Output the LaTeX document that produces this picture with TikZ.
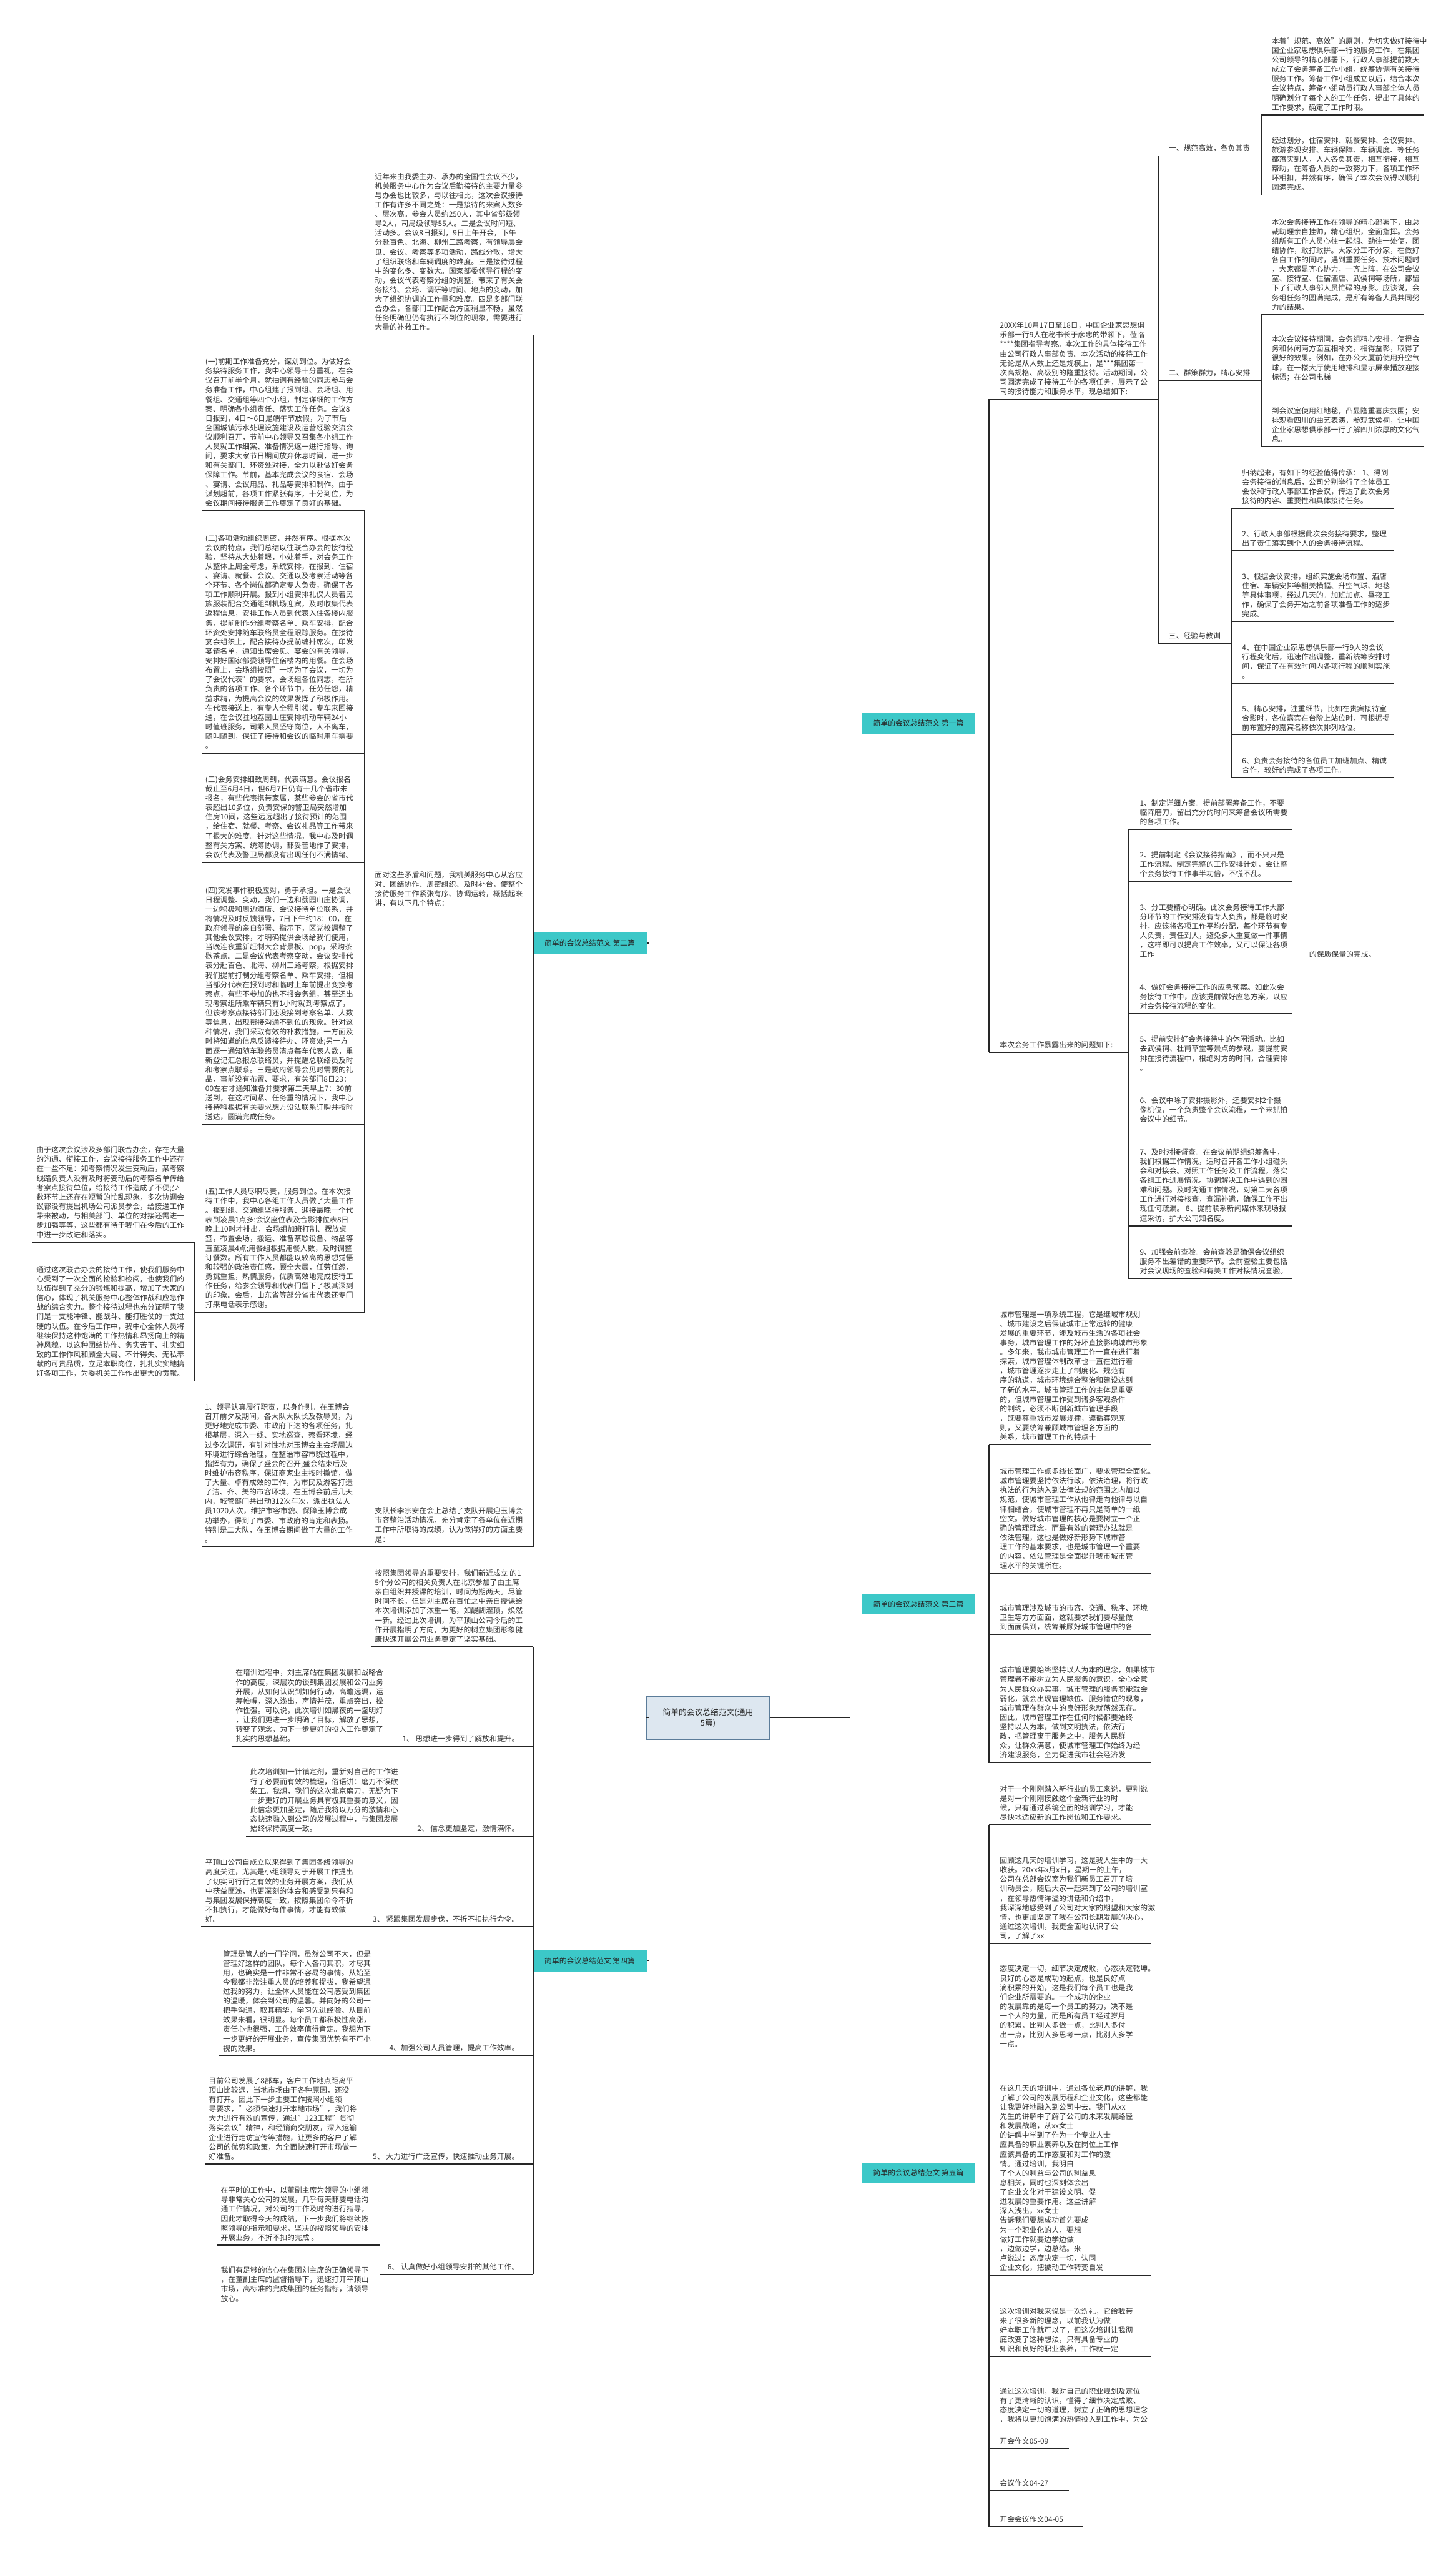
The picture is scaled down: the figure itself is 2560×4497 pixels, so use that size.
\documentclass[tikz,border=0pt]{standalone}
\usepackage{fontspec}
\setmainfont{Noto Sans CJK SC}
\definecolor{txtc}{HTML}{333333}
\definecolor{tealf}{HTML}{3CC8C8}
\definecolor{rootf}{HTML}{DDE7F0}
\definecolor{rootd}{HTML}{5B7C99}
\begin{document}
\begin{tikzpicture}[x=1pt,y=-1pt]
\tikzset{
 tx/.style={anchor=south west,inner sep=0pt,align=left,font=\fontsize{13}{16.6}\selectfont,text=txtc},
 tr/.style={anchor=south east,inner sep=0pt,align=right,font=\fontsize{13}{16.6}\selectfont,text=txtc},
 ul/.style={line width=1.5pt,draw=black!85},
 br/.style={fill=tealf,inner sep=0pt,minimum width=200pt,minimum height=37pt,font=\fontsize{13}{16}\selectfont,text=black!85},
 rt/.style={fill=rootf,draw=rootd,line width=1.5pt,inner sep=6pt,minimum width=215pt,minimum height=76pt,align=center,font=\fontsize{14}{19}\selectfont,text=black!85}
}
\useasboundingbox (0,0) rectangle (2560,4497);
\fill[white] (0,0) rectangle (2560,4497);

% ---------------- root and branches
\node[rt] (root) at (1245,3020) {简单的会议总结范文(通用\\5篇)};
\node[br] (b1) at (1615,1271) {简单的会议总结范文 第一篇};
\node[br] (b3) at (1615,2820) {简单的会议总结范文 第三篇};
\node[br] (b5) at (1615,3820) {简单的会议总结范文 第五篇};
\node[br] (b2) at (1037,1658) {简单的会议总结范文 第二篇};
\node[br] (b4) at (1037,3447) {简单的会议总结范文 第四篇};
\coordinate (rs) at (1495,3020);
\coordinate (ls) at (1141,3020);
\draw[ul] (root.east) -- (rs);
\draw[ul] (1495,1271) -- (1495,3820);
\draw[ul] (1495,1271) -- (b1.west);
\draw[ul] (1495,2820) -- (b3.west);
\draw[ul] (1495,3820) -- (b5.west);
\draw[ul] (root.west) -- (ls);
\draw[ul] (1141,1658) -- (1141,3447);
\draw[ul] (1141,1658) -- (b2.east);
\draw[ul] (1141,3447) -- (b4.east);

% ---------------- 第一篇
\draw[ul] (b1.east) -- (1739,1271);
\draw[ul] (1739,702) -- (1739,1850);
\node[tx] (m1) at (1758,695) {20XX年10月17日至18日，中国企业家思想俱\\乐部一行9人在秘书长于彦忠的带领下，莅临\\****集团指导考察。本次工作的具体接待工作\\由公司行政人事部负责。本次活动的接待工作\\无论是从人数上还是规模上，是***集团第一\\次高规格、高级别的隆重接待。活动期间，公\\司圆满完成了接待工作的各项任务，展示了公\\司的接待能力和服务水平，现总结如下:};
\draw[ul] (1739,702) -- (2037,702);
\draw[ul] (2037,274) -- (2037,1131);
% 一
\node[tx] (s1) at (2055,267) {一、规范高效，各负其责};
\draw[ul] (2037,274) -- (2218,274);
\draw[ul] (2218,202) -- (2218,343);
\node[tx] (a1) at (2236,195) {本着"规范、高效"的原则，为切实做好接待中\\国企业家思想俱乐部一行的服务工作，在集团\\公司领导的精心部署下，行政人事部提前数天\\成立了会务筹备工作小组，统筹协调有关接待\\服务工作。筹备工作小组成立以后，结合本次\\会议特点，筹备小组动员行政人事部全体人员\\明确划分了每个人的工作任务，提出了具体的\\工作要求，确定了工作时限。};
\draw[ul] (2218,202) -- (2504,202);
\node[tx] (a2) at (2236,336) {经过划分，住宿安排、就餐安排、会议安排、\\旅游参观安排、车辆保障、车辆调度、等任务\\都落实到人，人人各负其责，相互衔接，相互\\帮助，在筹备人员的一致努力下，各项工作环\\环相扣，井然有序，确保了本次会议得以顺利\\圆满完成。};
\draw[ul] (2218,343) -- (2504,343);
% 二
\node[tx] (s2) at (2055,662) {二、群策群力，精心安排};
\draw[ul] (2037,669) -- (2218,669);
\draw[ul] (2218,553) -- (2218,785);
\node[tx] (a3) at (2236,546) {本次会务接待工作在领导的精心部署下，由总\\裁助理亲自挂帅，精心组织，全面指挥。会务\\组所有工作人员心往一起想、劲往一处使，团\\结协作，敢打敢拼。大家分工不分家，在做好\\各自工作的同时，遇到重要任务、技术问题时\\，大家都是齐心协力，一齐上阵，在公司会议\\室、接待室、住宿酒店、武侯祠等场所，都留\\下了行政人事部人员忙碌的身影。应该说，会\\务组任务的圆满完成，是所有筹备人员共同努\\力的结果。};
\draw[ul] (2218,553) -- (2504,553);
\node[tx] (a4) at (2236,670) {本次会议接待期间，会务组精心安排，使得会\\务和休闲两方面互相补充，相得益彰，取得了\\很好的效果。例如，在办公大厦前使用升空气\\球，在一楼大厅使用地排和显示屏来播放迎接\\标语；在公司电梯};
\draw[ul] (2218,677) -- (2504,677);
\node[tx] (a5) at (2236,778) {到会议室使用红地毯，凸显隆重喜庆氛围；安\\排观看四川的曲艺表演，参观武侯祠，让中国\\企业家思想俱乐部一行了解四川浓厚的文化气\\息。};
\draw[ul] (2218,785) -- (2504,785);
% 三
\node[tx] (s3) at (2055,1124) {三、经验与教训};
\draw[ul] (2037,1131) -- (2165,1131);
\draw[ul] (2165,894) -- (2165,1367);
\node[tx] (e1) at (2184,887) {归纳起来，有如下的经验值得传承： 1、得到\\会务接待的消息后，公司分别举行了全体员工\\会议和行政人事部工作会议，传达了此次会务\\接待的内容、重要性和具体接待任务。};
\draw[ul] (2165,894) -- (2452,894);
\node[tx] (e2) at (2184,961) {2、行政人事部根据此次会务接待要求，整理\\出了责任落实到个人的会务接待流程。};
\draw[ul] (2165,968) -- (2452,968);
\node[tx] (e3) at (2184,1086) {3、根据会议安排，组织实施会场布置、酒店\\住宿、车辆安排等相关横幅、升空气球、地毯\\等具体事项，经过几天的。加班加点、昼夜工\\作，确保了会务开始之前各项准备工作的逐步\\完成。};
\draw[ul] (2165,1093) -- (2452,1093);
\node[tx] (e4) at (2184,1194) {4、在中国企业家思想俱乐部一行9人的会议\\行程变化后，迅速作出调整，重新统筹安排时\\间，保证了在有效时间内各项行程的顺利实施\\。};
\draw[ul] (2165,1201) -- (2452,1201);
\node[tx] (e5) at (2184,1285) {5、精心安排，注重细节，比如在贵宾接待室\\合影时，各位嘉宾在台阶上站位时，可根据提\\前布置好的嘉宾名称依次排列站位。};
\draw[ul] (2165,1292) -- (2452,1292);
\node[tx] (e6) at (2184,1360) {6、负责会务接待的各位员工加班加点、精诚\\合作，较好的完成了各项工作。};
\draw[ul] (2165,1367) -- (2452,1367);
% 问题
\node[tx] (q0) at (1758,1843) {本次会务工作暴露出来的问题如下:};
\draw[ul] (1739,1850) -- (1985,1850);
\draw[ul] (1985,1458) -- (1985,2248);
\node[tx] (q1) at (2004,1451) {1、制定详细方案。提前部署筹备工作，不要\\临阵磨刀，留出充分的时间来筹备会议所需要\\的各项工作。};
\draw[ul] (1985,1458) -- (2271,1458);
\node[tx] (q2) at (2004,1543) {2、提前制定《会议接待指南》，而不只只是\\工作流程。制定完整的工作安排计划，会让整\\个会务接待工作事半功倍，不慌不乱。};
\draw[ul] (1985,1550) -- (2271,1550);
\node[tx] (q3) at (2004,1684) {3、分工要精心明确。此次会务接待工作大部\\分环节的工作安排没有专人负责，都是临时安\\排，应该将各项工作平均分配，每个环节有专\\人负责，责任到人，避免多人重复做一件事情\\，这样即可以提高工作效率，又可以保证各项\\工作};
\draw[ul] (1985,1691) -- (2271,1691);
\node[tx] (q3a) at (2302,1684) {的保质保量的完成。};
\draw[ul] (2271,1691) -- (2426,1691);
\node[tx] (q4) at (2004,1775) {4、做好会务接待工作的应急预案。如此次会\\务接待工作中，应该提前做好应急方案，以应\\对会务接待流程的变化。};
\draw[ul] (1985,1782) -- (2271,1782);
\node[tx] (q5) at (2004,1883) {5、提前安排好会务接待中的休闲活动。比如\\去武侯祠、杜甫草堂等景点的参观，要提前安\\排在接待流程中，根绝对方的时间，合理安排\\。};
\draw[ul] (1985,1890) -- (2271,1890);
\node[tx] (q6) at (2004,1974) {6、会议中除了安排摄影外，还要安排2个摄\\像机位，一个负责整个会议流程，一个来抓拍\\会议中的细节。};
\draw[ul] (1985,1981) -- (2271,1981);
\node[tx] (q7) at (2004,2148) {7、及时对接督查。在会议前期组织筹备中，\\我们根据工作情况，适时召开各工作小组碰头\\会和对接会。对照工作任务及工作流程，落实\\各组工作进展情况。协调解决工作中遇到的困\\难和问题。及时沟通工作情况，对第二天各项\\工作进行对接核查，查漏补遗，确保工作不出\\现任何疏漏。 8、提前联系新闻媒体来现场报\\道采访，扩大公司知名度。};
\draw[ul] (1985,2155) -- (2271,2155);
\node[tx] (q9) at (2004,2241) {9、加强会前查验。会前查验是确保会议组织\\服务不出差错的重要环节。会前查验主要包括\\对会议现场的查验和有关工作对接情况查验。};
\draw[ul] (1985,2248) -- (2271,2248);

% ---------------- 第三篇
\draw[ul] (b3.east) -- (1739,2820);
\draw[ul] (1739,2540) -- (1739,3099);
\node[tx] (t1) at (1758,2533) {城市管理是一项系统工程，它是继城市规划\\、城市建设之后保证城市正常运转的健康\\发展的重要环节，涉及城市生活的各项社会\\事务，城市管理工作的好坏直接影响城市形象\\。多年来，我市城市管理工作一直在进行着\\探索，城市管理体制改革也一直在进行着\\，城市管理逐步走上了制度化、规范有\\序的轨道，城市环境综合整治和建设达到\\了新的水平。城市管理工作的主体是重要\\的，但城市管理工作受到诸多客观条件\\的制约，必须不断创新城市管理手段\\，既要尊重城市发展规律，遵循客观原\\则，又要统筹兼顾城市管理各方面的\\关系，城市管理工作的特点十};
\draw[ul] (1739,2540) -- (2024,2540);
\node[tx] (t2) at (1758,2759) {城市管理工作点多线长面广，要求管理全面化。\\城市管理要坚持依法行政，依法治理，将行政\\执法的行为纳入到法律法规的范围之内加以\\规范，使城市管理工作从他律走向他律与以自\\律相结合，使城市管理不再只是简单的一纸\\空文。做好城市管理的核心是要树立一个正\\确的管理理念，而最有效的管理办法就是\\依法管理，这也是做好新形势下城市管\\理工作的基本要求，也是城市管理一个重要\\的内容，依法管理是全面提升我市城市管\\理水平的关键所在。};
\draw[ul] (1739,2766) -- (2024,2766);
\node[tx] (t3) at (1758,2867) {城市管理涉及城市的市容、交通、秩序、环境\\卫生等方方面面，这就要求我们要尽量做\\到面面俱到，统筹兼顾好城市管理中的各};
\draw[ul] (1739,2874) -- (2024,2874);
\node[tx] (t4) at (1758,3092) {城市管理要始终坚持以人为本的理念，如果城市\\管理者不能树立为人民服务的意识，全心全意\\为人民群众办实事，城市管理的服务职能就会\\弱化，就会出现管理缺位、服务错位的现象，\\城市管理在群众中的良好形象就荡然无存。\\因此，城市管理工作在任何时候都要始终\\坚持以人为本，做到文明执法，依法行\\政，把管理寓于服务之中，服务人民群\\众，让群众满意，使城市管理工作始终为经\\济建设服务，全力促进我市社会经济发};
\draw[ul] (1739,3099) -- (2024,3099);

% ---------------- 第五篇
\draw[ul] (b5.east) -- (1739,3820);
\draw[ul] (1739,3208) -- (1739,4442);
\node[tx] (f1) at (1758,3201) {对于一个刚刚踏入新行业的员工来说，更别说\\是对一个刚刚接触这个全新行业的时\\候，只有通过系统全面的培训学习，才能\\尽快地适应新的工作岗位和工作要求。};
\draw[ul] (1739,3208) -- (2024,3208);
\node[tx] (f2) at (1758,3410) {回顾这几天的培训学习，这是我人生中的一大\\收获。20xx年x月x日，星期一的上午，\\公司在总部会议室为我们新员工召开了培\\训动员会，随后大家一起来到了公司的培训室\\，在领导热情洋溢的讲话和介绍中，\\我深深地感受到了公司对大家的期望和大家的激\\情，也更加坚定了我在公司长期发展的决心，\\通过这次培训，我更全面地认识了公\\司，了解了xx};
\draw[ul] (1739,3417) -- (2024,3417);
\node[tx] (f3) at (1758,3600) {态度决定一切，细节决定成败，心态决定乾坤。\\良好的心态是成功的起点，也是良好点\\滴积累的开始，这是我们每个员工也是我\\们企业所需要的。一个成功的企业\\的发展靠的是每一个员工的努力，决不是\\一个人的力量，而是所有员工经过岁月\\的积累，比别人多做一点，比别人多付\\出一点，比别人多思考一点，比别人多学\\一点。};
\draw[ul] (1739,3607) -- (2024,3607);
\node[tx] (f4) at (1758,3993) {在这几天的培训中，通过各位老师的讲解，我\\了解了公司的发展历程和企业文化，这些都能\\让我更好地融入到公司中去。我们从xx\\先生的讲解中了解了公司的未来发展路径\\和发展战略，从xx女士\\的讲解中学到了作为一个专业人士\\应具备的职业素养以及在岗位上工作\\应该具备的工作态度和对工作的激\\情。通过培训，我明白\\了个人的利益与公司的利益息\\息相关，同时也深刻体会出\\了企业文化对于建设文明、促\\进发展的重要作用。这些讲解\\深入浅出，xx女士\\告诉我们要想成功首先要成\\为一个职业化的人，要想\\做好工作就要边学边做\\，边做边学，边总结。米\\卢说过：态度决定一切，认同\\企业文化，把被动工作转变自发};
\draw[ul] (1739,4000) -- (2024,4000);
\node[tx] (f5) at (1758,4136) {这次培训对我来说是一次洗礼，它给我带\\来了很多新的理念，以前我认为做\\好本职工作就可以了，但这次培训让我彻\\底改变了这种想法，只有具备专业的\\知识和良好的职业素养，工作就一定};
\draw[ul] (1739,4143) -- (2024,4143);
\node[tx] (f6) at (1758,4260) {通过这次培训，我对自己的职业规划及定位\\有了更清晰的认识，懂得了细节决定成败、\\态度决定一切的道理，树立了正确的思想理念\\，我将以更加饱满的热情投入到工作中，为公};
\draw[ul] (1739,4267) -- (2024,4267);
\node[tx] (f7) at (1758,4298) {开会作文05-09};
\draw[ul] (1739,4305) -- (1880,4305);
\node[tx] (f8) at (1758,4371) {会议作文04-27};
\draw[ul] (1739,4378) -- (1880,4378);
\node[tx] (f9) at (1758,4435) {开会会议作文04-05};
\draw[ul] (1739,4442) -- (1905,4442);

% ---------------- 第二篇
\draw[ul] (938,1658) -- (b2.west);
\draw[ul] (938,589) -- (938,2719);
\node[tx] (n0) at (659,582) {近年来由我委主办、承办的全国性会议不少，\\机关服务中心作为会议后勤接待的主要力量参\\与办会也比较多，与以往相比，这次会议接待\\工作有许多不同之处：一是接待的来宾人数多\\、层次高。参会人员约250人，其中省部级领\\导2人，司局级领导55人。二是会议时间短、\\活动多。会议8日报到，9日上午开会，下午\\分赴百色、北海、柳州三路考察，有领导层会\\见、会议、考察等多项活动，路线分散，增大\\了组织联络和车辆调度的难度。三是接待过程\\中的变化多、变数大。国家部委领导行程的变\\动，会议代表考察分组的调整，带来了有关会\\务接待、会场、调研等时间、地点的变动，加\\大了组织协调的工作量和难度。四是多部门联\\合办会，各部门工作配合方面稍显不畅，虽然\\任务明确但仍有执行不到位的现象，需要进行\\大量的补救工作。};
\draw[ul] (652,589) -- (938,589);
\node[tx] (n1) at (659,1594) {面对这些矛盾和问题，我机关服务中心从容应\\对、团结协作、周密组织、及时补台，使整个\\接待服务工作紧张有序、协调运转，概括起来\\讲，有以下几个特点：};
\draw[ul] (641,1601) -- (938,1601);
\draw[ul] (641,898) -- (641,2307);
\node[tx] (p1) at (361,891) {(一)前期工作准备充分，谋划到位。为做好会\\务接待服务工作，我中心领导十分重视，在会\\议召开前半个月，就抽调有经验的同志参与会\\务准备工作，中心组建了报到组、会场组、用\\餐组、交通组等四个小组，制定详细的工作方\\案、明确各小组责任、落实工作任务。会议8\\日报到，4日～6日是端午节放假，为了节后\\全国城镇污水处理设施建设及运营经验交流会\\议顺利召开，节前中心领导又召集各小组工作\\人员就工作细案、准备情况逐一进行指导、询\\问，要求大家节日期间放弃休息时间，进一步\\和有关部门、环资处对接，全力以赴做好会务\\保障工作。节前，基本完成会议的食宿、会场\\、宴请、会议用品、礼品等安排和制作。由于\\谋划超前，各项工作紧张有序，十分到位，为\\会议期间接待服务工作奠定了良好的基础。};
\draw[ul] (355,898) -- (641,898);
\node[tx] (p2) at (361,1317) {(二)各项活动组织周密，井然有序。根据本次\\会议的特点，我们总结以往联合办会的接待经\\验，坚持从大处着眼，小处着手，对会务工作\\从整体上周全考虑，系统安排，在报到、住宿\\、宴请、就餐、会议、交通以及考察活动等各\\个环节、各个岗位都确定专人负责，确保了各\\项工作顺利开展。报到小组安排礼仪人员着民\\族服装配合交通组到机场迎宾，及时收集代表\\返程信息，安排工作人员到代表入住各楼内服\\务，提前制作分组考察名单、乘车安排，配合\\环资处安排随车联络员全程跟踪服务。在接待\\宴会组织上，配合接待办提前编排席次，印发\\宴请名单，通知出席会见、宴会的有关领导，\\安排好国家部委领导住宿楼内的用餐。在会场\\布置上，会场组按照"一切为了会议，一切为\\了会议代表"的要求，会场组各位同志，在所\\负责的各项工作、各个环节中，任劳任怨，精\\益求精，为提高会议的效果发挥了积极作用。\\在代表接送上，有专人全程引领，专车来回接\\送，在会议驻地荔园山庄安排机动车辆24小\\时值班服务，司乘人员坚守岗位，人不离车，\\随叫随到，保证了接待和会议的临时用车需要\\。};
\draw[ul] (355,1324) -- (641,1324);
\node[tx] (p3) at (361,1509) {(三)会务安排细致周到，代表满意。会议报名\\截止至6月4日，但6月7日仍有十几个省市未\\报名，有些代表携带家属，某些参会的省市代\\表超出10多位，负责安保的警卫局突然增加\\住房10间，这些远远超出了接待预计的范围\\，给住宿、就餐、考察、会议礼品等工作带来\\了很大的难度。针对这些情况，我中心及时调\\整有关方案、统筹协调，都妥善地作了安排，\\会议代表及警卫局都没有出现任何不满情绪。};
\draw[ul] (355,1516) -- (641,1516);
\node[tx] (p4) at (361,1970) {(四)突发事件积极应对，勇于承担。一是会议\\日程调整、变动，我们一边和荔园山庄协调，\\一边积极和周边酒店、会议接待单位联系，并\\将情况及时反馈领导，7日下午约18：00，在\\政府领导的亲自部署、指示下，区党校调整了\\其他会议安排，才明确提供会场给我们使用，\\当晚连夜重新赶制大会背景板、pop，采购茶\\歇茶点。二是会议代表考察变动，会议安排代\\表分赴百色、北海、柳州三路考察，根据安排\\我们提前打制分组考察名单、乘车安排，但相\\当部分代表在报到时和临时上车前提出变换考\\察点，有些不参加的也不报会务组，甚至还出\\现考察组所乘车辆只有1小时就到考察点了，\\但该考察点接待部门还没接到考察名单、人数\\等信息，出现衔接沟通不到位的现象。针对这\\种情况，我们采取有效的补救措施，一方面及\\时将知道的信息反馈接待办、环资处;另一方\\面逐一通知随车联络员清点每车代表人数，重\\新登记汇总报总联络员，并提醒总联络员及时\\和考察点联系。三是政府领导会见时需要的礼\\品，事前没有布置、要求，有关部门8日23：\\00左右才通知准备并要求第二天早上7：30前\\送到，在这时间紧、任务重的情况下，我中心\\接待科根据有关要求想方设法联系订购并按时\\送达，圆满完成任务。};
\draw[ul] (355,1977) -- (641,1977);
\node[tx] (p5) at (361,2300) {(五)工作人员尽职尽责，服务到位。在本次接\\待工作中，我中心各组工作人员做了大量工作\\。报到组、交通组坚持服务、迎接最晚一个代\\表到凌晨1点多;会议座位表及合影排位表8日\\晚上10时才排出，会场组加班打制、摆放桌\\签，布置会场，搬运、准备茶歇设备、物品等\\直至凌晨4点;用餐组根据用餐人数，及时调整\\订餐数。所有工作人员都能以较高的思想觉悟\\和较强的政治责任感，顾全大局，任劳任怨，\\勇挑重担，热情服务，优质高效地完成接待工\\作任务，给参会领导和代表们留下了极其深刻\\的印象。会后，山东省等部分省市代表还专门\\打来电话表示感谢。};
\draw[ul] (355,2307) -- (641,2307);
\draw[ul] (342,2184) -- (342,2428);
\draw[ul] (342,2307) -- (355,2307);
\node[tx] (r1) at (64,2177) {由于这次会议涉及多部门联合办会，存在大量\\的沟通、衔接工作，会议接待服务工作中还存\\在一些不足：如考察情况发生变动后，某考察\\线路负责人没有及时将变动后的考察名单传给\\考察点接待单位，给接待工作造成了不便;少\\数环节上还存在短暂的忙乱现象，多次协调会\\议都没有提出机场公司派员参会，给接送工作\\带来被动，与相关部门、单位的对接还需进一\\步加强等等，这些都有待于我们在今后的工作\\中进一步改进和落实。};
\draw[ul] (56,2184) -- (342,2184);
\node[tx] (r2) at (64,2421) {通过这次联合办会的接待工作，使我们服务中\\心受到了一次全面的检验和检阅，也使我们的\\队伍得到了充分的锻炼和提高，增加了大家的\\信心，体现了机关服务中心整体作战和应急作\\战的综合实力。整个接待过程也充分证明了我\\们是一支能冲锋、能战斗、能打胜仗的一支过\\硬的队伍。在今后工作中，我中心全体人员将\\继续保持这种饱满的工作热情和昂扬向上的精\\神风貌，以这种团结协作、务实苦干、扎实细\\致的工作作风和顾全大局、不计得失、无私奉\\献的可贵品质，立足本职岗位，扎扎实实地搞\\好各项工作，为委机关工作作出更大的贡献。};
\draw[ul] (56,2428) -- (342,2428);
\node[tx] (n2) at (659,2712) {支队长李宗安在会上总结了支队开展迎玉博会\\市容整治活动情况，充分肯定了各单位在近期\\工作中所取得的成绩，认为做得好的方面主要\\是：};
\draw[ul] (640,2719) -- (938,2719);
\node[tx] (n3) at (360,2712) {1、领导认真履行职责，以身作则。在玉博会\\召开前夕及期间，各大队大队长及教导员，为\\更好地完成市委、市政府下达的各项任务，扎\\根基层，深入一线、实地巡查、察看环境，经\\过多次调研，有针对性地对玉博会主会场周边\\环境进行综合治理，在整治市容市貌过程中，\\指挥有力，确保了盛会的召开;盛会结束后及\\时维护市容秩序，保证商家业主按时撤馆，做\\了大量、卓有成效的工作，为市民及游客打造\\了洁、齐、美的市容环境。在玉博会前后几天\\内，城管部门共出动312次车次，派出执法人\\员1020人次，维护市容市貌、保障玉博会成\\功举办，得到了市委、市政府的肯定和表扬。\\特别是二大队，在玉博会期间做了大量的工作\\。};
\draw[ul] (355,2719) -- (640,2719);

% ---------------- 第四篇
\draw[ul] (938,3447) -- (b4.west);
\draw[ul] (938,2895) -- (938,3999);
\node[tx] (k0) at (659,2888) {按照集团领导的重要安排，我们新近成立 的1\\5个分公司的相关负责人在北京参加了由主席\\亲自组织并授课的培训，时间为期两天。尽管\\时间不长，但是刘主席在百忙之中亲自授课给\\本次培训添加了浓重一笔，如醍醐灌顶，焕然\\一新。经过此次培训，为平顶山公司今后的工\\作开展指明了方向，为更好的树立集团形象健\\康快速开展公司业务奠定了坚实基础。};
\draw[ul] (652,2895) -- (938,2895);
\node[tr] (k1) at (913,3063) {1、 思想进一步得到了解放和提升。};
\draw[ul] (700,3070) -- (938,3070);
\node[tx] (c1) at (414,3063) {在培训过程中，刘主席站在集团发展和战略合\\作的高度，深层次的谈到集团发展和公司业务\\开展，从如何认识到如何行动，高瞻远瞩，运\\筹帷幄，深入浅出，声情并茂，重点突出，操\\作性强。可以说，此次培训如黑夜的一盏明灯\\，让我们更进一步明确了目标，解放了思想，\\转变了观念，为下一步更好的投入工作奠定了\\扎实的思想基础。};
\draw[ul] (407,3070) -- (700,3070);
\node[tr] (k2) at (913,3221) {2、 信念更加坚定，激情满怀。};
\draw[ul] (725,3228) -- (938,3228);
\node[tx] (c2) at (440,3221) {此次培训如一针镇定剂，重新对自己的工作进\\行了必要而有效的梳理，俗语讲：磨刀不误砍\\柴工。我想，我们的这次北京磨刀，无疑为下\\一步更好的开展业务具有极其重要的意义，因\\此信念更加坚定，随后我将以万分的激情和心\\态快速融入到公司的发展过程中，与集团发展\\始终保持高度一致。};
\draw[ul] (433,3228) -- (725,3228);
\node[tr] (k3) at (913,3380) {3、 紧跟集团发展步伐，不折不扣执行命令。};
\draw[ul] (645,3387) -- (938,3387);
\node[tx] (c3) at (361,3380) {平顶山公司自成立以来得到了集团各级领导的\\高度关注，尤其是小组领导对于开展工作提出\\了切实可行行之有效的业务开展方案，我们从\\中获益匪浅，也更深刻的体会和感受到只有和\\与集团发展保持高度一致，按照集团命令不折\\不扣执行，才能做好每件事情，才能有效做\\好。};
\draw[ul] (354,3387) -- (645,3387);
\node[tr] (k4) at (913,3607) {4、加强公司人员管理，提高工作效率。};
\draw[ul] (672,3614) -- (938,3614);
\node[tx] (c4) at (392,3607) {管理是管人的一门学问，虽然公司不大，但是\\管理好这样的团队，每个人各司其职，才尽其\\用，也确实是一件非常不容易的事情。从始至\\今我都非常注重人员的培养和提拔，我希望通\\过我的努力，让全体人员能在公司感受到集团\\的温暖，体会到公司的温馨。并向好的公司一\\把手沟通，取其精华，学习先进经验。从目前\\效果来看，很明显。每个员工都积极性高涨，\\责任心也很强，工作效率值得肯定。我想为下\\一步更好的开展业务，宣传集团优势有不可小\\视的效果。};
\draw[ul] (385,3614) -- (672,3614);
\node[tr] (k5) at (913,3797) {5、 大力进行广泛宣传，快速推动业务开展。};
\draw[ul] (645,3804) -- (938,3804);
\node[tx] (c5) at (367,3797) {目前公司发展了8部车，客户工作地点距离平\\顶山比较远，当地市场由于各种原因，还没\\有打开。因此下一步主要工作按照小组领\\导要求，"必须快速打开本地市场"，我们将\\大力进行有效的宣传，通过"123工程"贯彻\\落实会议"精神，和经销商交朋友，深入运输\\企业进行走访宣传等措施，让更多的客户了解\\公司的优势和政策，为全面快速打开市场做一\\好准备。};
\draw[ul] (360,3804) -- (645,3804);
\node[tr] (k6) at (913,3992) {6、 认真做好小组领导安排的其他工作。};
\draw[ul] (668,3999) -- (938,3999);
\draw[ul] (668,3947) -- (668,4054);
\node[tx] (c6) at (388,3940) {在平时的工作中，以董副主席为领导的小组领\\导非常关心公司的发展，几乎每天都要电话沟\\通工作情况，对公司的工作及时的进行指导，\\因此才取得今天的成绩，下一步我们将继续按\\照领导的指示和要求，坚决的按照领导的安排\\开展业务，不折不扣的完成 。};
\draw[ul] (381,3947) -- (668,3947);
\node[tx] (c7) at (388,4047) {我们有足够的信心在集团刘主席的正确领导下\\，在董副主席的监督指导下，迅速打开平顶山\\市场，高标准的完成集团的任务指标，请领导\\放心。};
\draw[ul] (381,4054) -- (668,4054);
\end{tikzpicture}
\end{document}
